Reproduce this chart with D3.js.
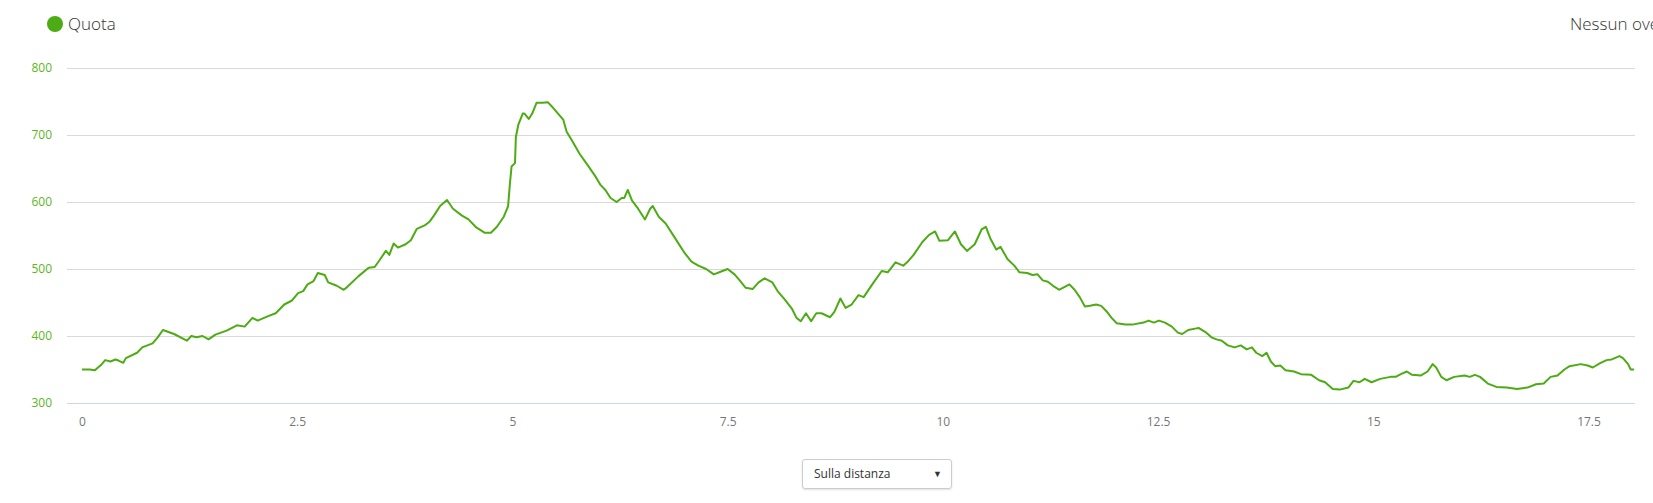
<!DOCTYPE html>
<html>
<head>
<meta charset="utf-8">
<script src="https://cdn.jsdelivr.net/npm/d3@7"></script>
<style>
  body { margin: 0; background: #fff; font-family: "Open Sans", sans-serif; }
  #chart { position: relative; width: 1653px; height: 503px; overflow: hidden; }
  .picker {
    position: absolute; left: 802px; top: 459px; width: 150px; height: 30px;
    border: 1px solid #ccc; border-radius: 3px; box-shadow: 0 1px 2px rgba(0,0,0,0.12);
    font-size: 12px; color: #333; line-height: 28px; padding-left: 11px; box-sizing: border-box;
  }
  .picker span { position: absolute; right: 9px; top: 0; font-size: 9px; color: #333; }
</style>
</head>
<body>
<div id="chart"></div>
<script>
// distance (km) and elevation (m)
var distance = [0, 0.09, 0.15, 0.23, 0.27, 0.33, 0.39, 0.43, 0.48, 0.51, 0.64, 0.70, 0.82, 0.88, 0.94,
  1.07, 1.19, 1.22, 1.27, 1.33, 1.40, 1.47, 1.55, 1.68, 1.80, 1.89, 1.98, 2.04, 2.17, 2.25, 2.35,
  2.44, 2.51, 2.57, 2.62, 2.69, 2.74, 2.82, 2.86, 2.96, 3.04, 3.08, 3.21, 3.33, 3.40, 3.45, 3.53,
  3.57, 3.62, 3.67, 3.76, 3.82, 3.89, 3.98, 4.04, 4.09, 4.16, 4.24, 4.31, 4.41, 4.49, 4.58, 4.68,
  4.75, 4.82, 4.90, 4.95, 4.97, 4.99, 5.03, 5.04, 5.07, 5.12, 5.14, 5.19, 5.23, 5.28, 5.35, 5.41,
  5.47, 5.53, 5.59, 5.63, 5.69, 5.78, 5.88, 5.96, 6.02, 6.08, 6.14, 6.21, 6.27, 6.30, 6.34, 6.39,
  6.46, 6.54, 6.60, 6.63, 6.70, 6.78, 6.88, 7.00, 7.08, 7.16, 7.25, 7.34, 7.44, 7.50, 7.58, 7.64,
  7.71, 7.79, 7.86, 7.93, 8.02, 8.08, 8.16, 8.25, 8.30, 8.35, 8.41, 8.47, 8.53, 8.59, 8.69, 8.74,
  8.81, 8.87, 8.94, 9.02, 9.08, 9.18, 9.29, 9.36, 9.45, 9.54, 9.60, 9.66, 9.76, 9.84, 9.91, 9.96,
  10.06, 10.14, 10.21, 10.28, 10.37, 10.45, 10.50, 10.55, 10.62, 10.67, 10.75, 10.83, 10.89, 10.98,
  11.04, 11.10, 11.16, 11.22, 11.29, 11.35, 11.41, 11.47, 11.53, 11.59, 11.65, 11.71, 11.78, 11.84,
  11.90, 11.96, 12.02, 12.12, 12.20, 12.33, 12.39, 12.45, 12.51, 12.58, 12.66, 12.73, 12.78, 12.85,
  12.93, 12.97, 13.06, 13.12, 13.18, 13.24, 13.31, 13.39, 13.46, 13.53, 13.59, 13.64, 13.71, 13.76,
  13.81, 13.86, 13.92, 13.98, 14.08, 14.16, 14.28, 14.37, 14.44, 14.53, 14.61, 14.71, 14.77, 14.84,
  14.90, 14.98, 15.08, 15.20, 15.26, 15.32, 15.39, 15.45, 15.55, 15.63, 15.69, 15.73, 15.79, 15.85,
  15.94, 16.06, 16.12, 16.18, 16.24, 16.33, 16.43, 16.55, 16.67, 16.79, 16.89, 16.98, 17.06, 17.14,
  17.22, 17.28, 17.41, 17.49, 17.55, 17.63, 17.71, 17.77, 17.86, 17.90, 17.96, 17.99, 18.03];
var elevation = [350, 350, 349, 358, 364, 362, 365, 363, 360, 367, 375, 383, 389, 398, 409,
  403, 395, 393, 400, 398, 400, 395, 402, 408, 416, 414, 427, 423, 430, 434, 447,
  453, 464, 467, 477, 482, 494, 491, 480, 475, 469, 473, 489, 502, 503, 512, 527,
  521, 538, 532, 537, 543, 560, 565, 571, 580, 594, 603, 590, 580, 574, 562, 554,
  554, 563, 578, 594, 626, 653, 658, 697, 716, 732, 732, 724, 732, 748, 748, 749,
  741, 732, 723, 705, 692, 672, 654, 639, 626, 618, 606, 600, 606, 606, 618, 602,
  590, 574, 590, 594, 578, 568, 548, 524, 511, 505, 500, 492, 497, 500, 492, 483,
  472, 470, 480, 486, 480, 467, 455, 440, 427, 422, 434, 422, 434, 434, 428, 436,
  456, 442, 447, 461, 458, 477, 497, 495, 510, 505, 512, 521, 540, 551, 556, 542,
  543, 556, 537, 527, 537, 559, 563, 546, 529, 533, 515, 505, 495, 494,
  491, 492, 483, 481, 474, 469, 473, 477, 469, 458, 444, 445, 447, 445,
  437, 427, 419, 417, 417, 420, 423, 420, 423, 420, 414, 405, 403, 409,
  411, 412, 405, 398, 395, 393, 386, 383, 386, 380, 383, 375, 370, 375,
  362, 355, 356, 349, 347, 343, 342, 334, 331, 321, 320, 323, 333, 331,
  336, 331, 336, 339, 339, 343, 347, 342, 341, 347, 358, 353, 339, 334,
  339, 341, 339, 342, 339, 329, 324, 323, 321, 323, 328, 329, 339, 341,
  350, 355, 358, 356, 353, 359, 364, 365, 370, 367, 358, 350, 350];
var xTicks = [0, 2.5, 5, 7.5, 10, 12.5, 15, 17.5];
var yTicks = [300, 400, 500, 600, 700, 800];
var seriesName = "Quota";

var W = 1653, H = 503;
var plot = { left: 67, right: 1635, top: 68, bottom: 403 };
var green = "#4dab14";

var svg = d3.select("#chart").append("svg")
  .attr("width", W).attr("height", H)
  .style("position", "absolute").style("left", 0).style("top", 0);

var x = d3.scaleLinear().domain([-0.174, 18.04]).range([plot.left, plot.right]);
var y = d3.scaleLinear().domain([300, 800]).range([plot.bottom, plot.top]);

// y grid + labels
var yAxis = svg.append("g")
  .attr("transform", "translate(" + plot.left + ",0)")
  .call(d3.axisLeft(y).tickValues(yTicks).tickSize(-(plot.right - plot.left)).tickPadding(15));
yAxis.select(".domain").remove();
yAxis.selectAll("line").attr("stroke", "#d9d9d9");
yAxis.selectAll("text")
  .attr("fill", "#5cb623")
  .style("font-family", "Open Sans, sans-serif")
  .style("font-size", "12px");

// x axis
var xAxis = svg.append("g")
  .attr("transform", "translate(0," + plot.bottom + ")")
  .call(d3.axisBottom(x).tickValues(xTicks).tickFormat(function(d) { return String(d); })
    .tickSize(0).tickPadding(14));
xAxis.select(".domain").attr("stroke", "#ccd6eb").attr("d", "M" + plot.left + ",0.5H" + plot.right);
xAxis.selectAll("text")
  .attr("fill", "#777")
  .style("font-family", "Open Sans, sans-serif")
  .style("font-size", "12px");

// profile line
var line = d3.line()
  .x(function(d, i) { return x(distance[i]); })
  .y(function(d) { return y(d); });

svg.append("path")
  .datum(elevation)
  .attr("fill", "none")
  .attr("stroke", green)
  .attr("stroke-width", 2)
  .attr("stroke-linejoin", "round")
  .attr("d", line);

// legend
svg.append("circle").attr("cx", 55).attr("cy", 24).attr("r", 8).attr("fill", green);
svg.append("text")
  .attr("x", 68).attr("y", 30)
  .style("font-family", "Open Sans, sans-serif")
  .style("font-size", "17px")
  .style("font-weight", 300)
  .attr("fill", "#333")
  .text(seriesName);

svg.append("text")
  .attr("x", 1570).attr("y", 30)
  .style("font-family", "Open Sans, sans-serif")
  .style("font-size", "17px")
  .style("font-weight", 300)
  .attr("fill", "#333")
  .text("Nessun overlay");

// distance selector
d3.select("#chart").append("div")
  .attr("class", "picker")
  .html("Sulla distanza<span>&#9660;</span>");
</script>
</body>
</html>
